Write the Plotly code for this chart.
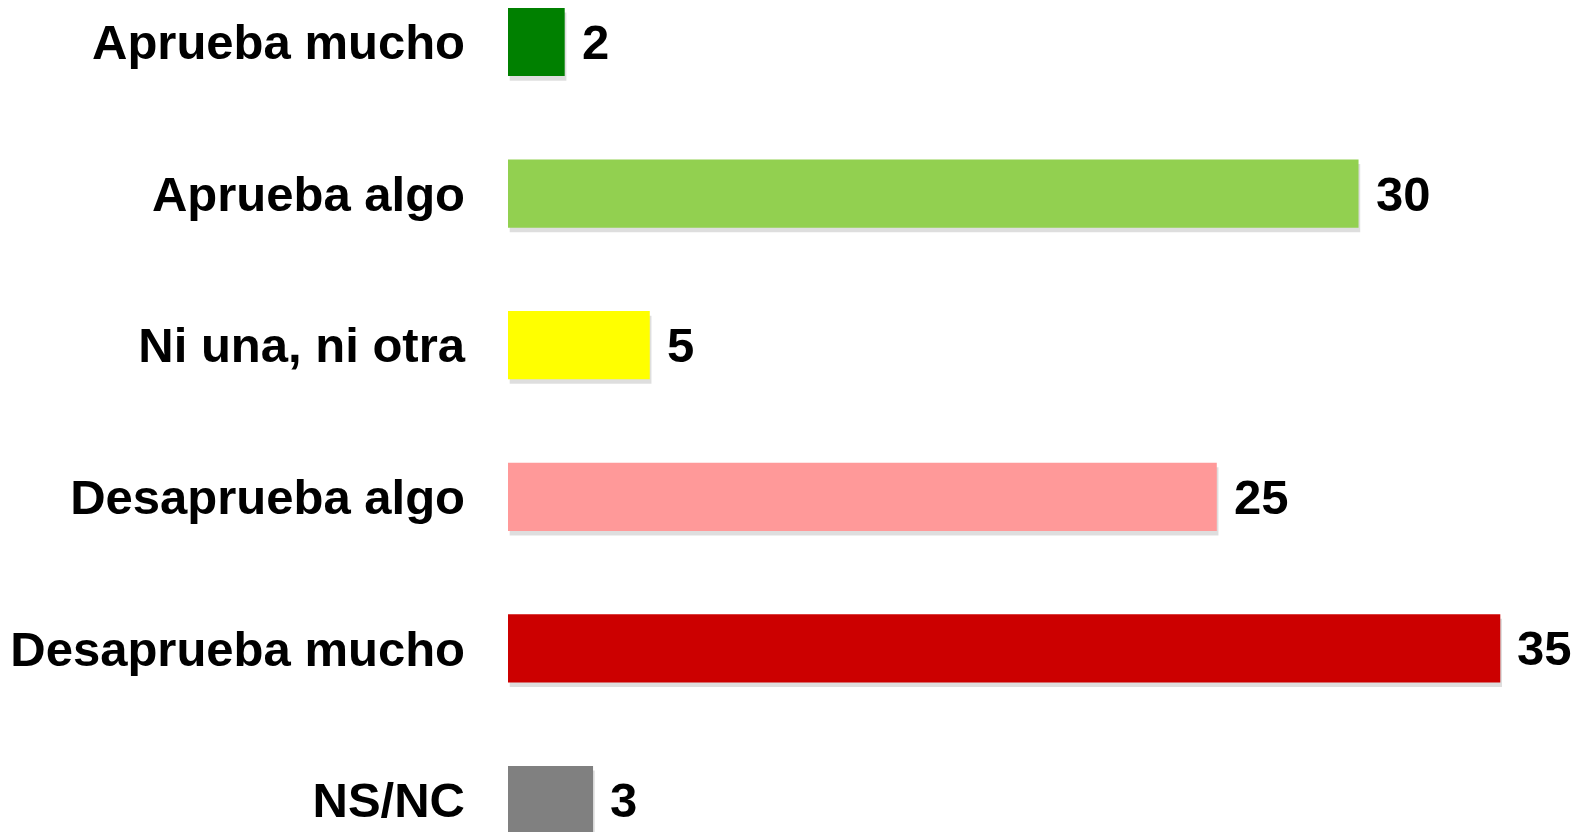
import plotly.graph_objects as go

categories = ["Aprueba mucho", "Aprueba algo", "Ni una, ni otra",
              "Desaprueba algo", "Desaprueba mucho", "NS/NC"]
values = [2, 30, 5, 25, 35, 3]
colors = ["#008000", "#92D050", "#FFFF00", "#FF9999", "#CC0000", "#808080"]

FONT = "Liberation Sans, Arial, sans-serif"
BAR_W = 0.45

fig = go.Figure()

# subtle drop shadow
fig.add_trace(go.Bar(
    y=categories, x=values, base=0.06, orientation="h",
    width=BAR_W, offset=-BAR_W / 2 + 0.03,
    marker=dict(color="rgba(0,0,0,0.13)", line=dict(width=0)),
    hoverinfo="skip", showlegend=False,
))

fig.add_trace(go.Bar(
    y=categories, x=values, orientation="h",
    width=BAR_W, offset=-BAR_W / 2,
    marker=dict(color=colors, line=dict(width=0)),
    showlegend=False,
))

for c, v in zip(categories, values):
    fig.add_annotation(
        x=v, y=c, xref="x", yref="y", text=str(v), showarrow=False,
        xanchor="left", yanchor="middle", xshift=15,
        font=dict(family=FONT, size=49, color="#000000", weight="bold"),
    )

fig.update_layout(
    width=1583, height=832,
    margin=dict(l=508, r=26, t=0, b=0),
    paper_bgcolor="white", plot_bgcolor="white",
    barmode="overlay",
    xaxis=dict(range=[0, 37], visible=False, showgrid=False, zeroline=False),
    yaxis=dict(
        categoryorder="array", categoryarray=categories,
        range=[5.211, -0.277],
        showgrid=False, zeroline=False, showline=False, ticks="",
        ticklabelstandoff=42,
        tickfont=dict(family=FONT, size=49, color="#000000", weight="bold"),
    ),
)

fig.write_html(
    "out.html",
    config={"displayModeBar": False},
    post_script="document.body.style.margin='0';document.body.style.overflow='hidden';",
)
